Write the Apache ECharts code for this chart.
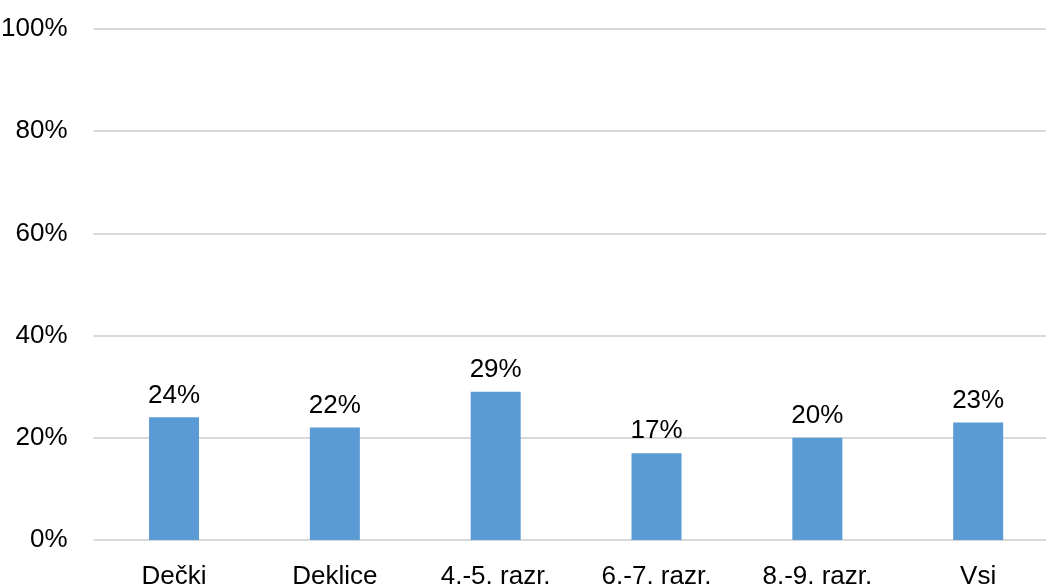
<!DOCTYPE html>
<html>
<head>
<meta charset="utf-8">
<script src="https://cdn.jsdelivr.net/npm/echarts@6/dist/echarts.min.js"></script>
<style>
html,body{margin:0;padding:0;background:#fff;}
#chart{width:1046px;height:587px;}
</style>
</head>
<body>
<div id="chart"></div>
<script>
const categories = ['Dečki', 'Deklice', '4.-5. razr.', '6.-7. razr.', '8.-9. razr.', 'Vsi'];
const values = [24, 22, 29, 17, 20, 23];
const yTicks = [0, 20, 40, 60, 80, 100];

const FONT = '"Liberation Sans Narrow", "Arial Narrow", "Liberation Sans", Arial, sans-serif';
const chart = echarts.init(document.getElementById('chart'), null, {renderer: 'canvas'});
chart.setOption({
  animation: false,
  grid: {left: 93.6, top: 29, width: 965, height: 511, containLabel: false, outerBoundsMode: 'none'},
  xAxis: {
    type: 'category',
    data: categories,
    axisLine: {show: false},
    axisTick: {show: false},
    axisLabel: {color: '#000', fontFamily: FONT, fontSize: 26, margin: 24, interval: 0}
  },
  yAxis: {
    type: 'value',
    min: yTicks[0],
    max: yTicks[yTicks.length - 1],
    interval: 20,
    axisLine: {show: false},
    axisTick: {show: false},
    axisLabel: {color: '#000', fontFamily: FONT, fontSize: 26, margin: 26, formatter: v => v + '%'},
    splitLine: {lineStyle: {color: '#d9d9d9', width: 2}}
  },
  series: [{
    type: 'bar',
    data: values,
    barWidth: 50,
    itemStyle: {color: '#5b9bd5'},
    label: {
      show: true, position: 'top', distance: 9,
      color: '#000', fontFamily: FONT, fontSize: 26,
      formatter: p => p.value + '%'
    }
  }]
});
</script>
</body>
</html>
